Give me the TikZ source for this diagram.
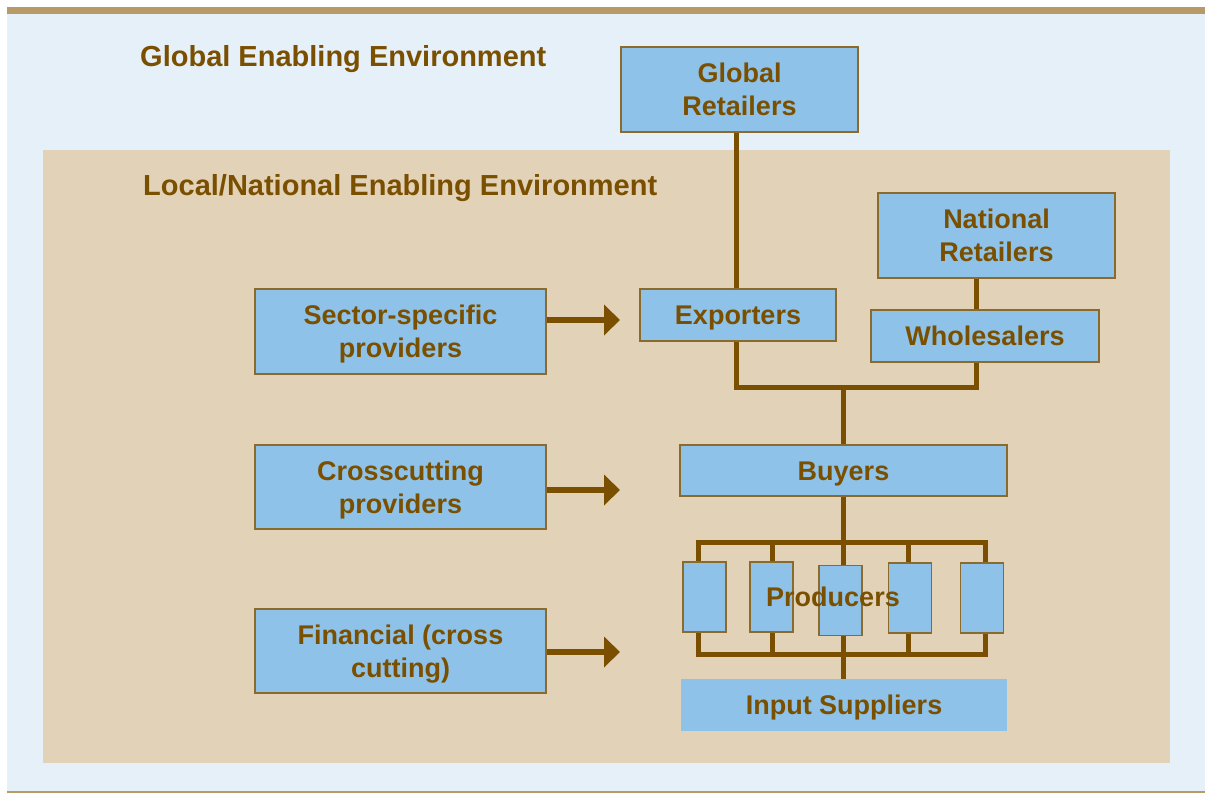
\documentclass[tikz,border=0pt]{standalone}
\usepackage{fontspec}
\setmainfont{Liberation Sans}
\usetikzlibrary{arrows.meta}
\definecolor{bluebg}{HTML}{E5F0F9}
\definecolor{tanbg}{HTML}{E2D2B8}
\definecolor{topbar}{HTML}{B89A68}
\definecolor{nodefill}{HTML}{8EC2E9}
\definecolor{brn}{HTML}{7A5000}
\definecolor{bordr}{HTML}{8B6A2E}
\newcommand\lb[1]{\raisebox{0pt}[\dimexpr\height+6pt\relax][\depth]{\begin{tabular}{@{}c@{}}#1\end{tabular}}}
\tikzset{
  box/.style={draw=bordr, line width=1.2pt, fill=nodefill, inner sep=0pt,
    text=brn, font=\bfseries\fontsize{27}{33}\selectfont},
  plainbox/.style={fill=nodefill, inner sep=0pt,
    text=brn, font=\bfseries\fontsize{27}{33}\selectfont},
  prod/.style={draw=bordr, line width=1.2pt, fill=nodefill, inner sep=0pt,
    minimum width=43, minimum height=70},
  title/.style={anchor=west, text=brn, inner sep=0pt, font=\bfseries\fontsize{29}{33}\selectfont},
  conn/.style={draw=brn, line width=5pt, line join=miter},
  arr/.style={draw=brn, line width=5.5pt, -{Triangle[length=16pt,width=30pt]}}
}
\begin{document}
\begin{tikzpicture}[x=1pt,y=-1pt]
\useasboundingbox (0,0) rectangle (1205,793);
% backgrounds
\fill[white] (0,0) rectangle (1205,793);
\fill[bluebg] (7,14) rectangle (1205,791);
\fill[topbar] (7,7) rectangle (1205,14);
\fill[topbar] (7,791) rectangle (1205,793);
\fill[tanbg] (43,150) rectangle (1170,763);
% titles
\node[title] (tg) at (140,59) {Global Enabling Environment};
\node[title] (tl) at (143,188) {Local/National Enabling Environment};
% coordinates
\coordinate (jx) at (843,387);
\coordinate (wx) at (976,0);
\coordinate (ex) at (736,0);
\coordinate (bt) at (843,542);
\coordinate (bb) at (843,654);
\coordinate (q1) at (698,542); \coordinate (q2) at (772,542);
\coordinate (q4) at (908,542); \coordinate (q5) at (985,542);
\coordinate (r1) at (698,654); \coordinate (r2) at (772,654);
\coordinate (r4) at (908,654); \coordinate (r5) at (985,654);
\coordinate (a1) at (620,320);
\coordinate (a2) at (620,490);
\coordinate (a3) at (620,652);
% nodes
\node[box, minimum width=237, minimum height=85] (gr) at (739.5,89.5) {\lb{Global\\Retailers}};
\node[box, minimum width=237, minimum height=85] (nr) at (996.5,235.5) {\lb{National\\Retailers}};
\node[box, minimum width=196, minimum height=52] (exp) at (738,315) {\lb{Exporters}};
\node[box, minimum width=228, minimum height=52] (whl) at (985,336) {\lb{Wholesalers}};
\node[box, minimum width=327, minimum height=51] (buy) at (843.5,470.5) {\lb{Buyers}};
\node[plainbox, minimum width=326, minimum height=52] (is) at (844,705) {\lb{Input Suppliers}};
\node[box, minimum width=291, minimum height=85] (ssp) at (400.5,331.5) {\lb{Sector-specific\\providers}};
\node[box, minimum width=291, minimum height=84] (ccp) at (400.5,487) {\lb{Crosscutting\\providers}};
\node[box, minimum width=291, minimum height=84] (fin) at (400.5,651) {\lb{Financial (cross\\cutting)}};
% connectors
\draw[conn] (exp.north -| ex) -- (gr.south -| ex);
\draw[conn] (nr.south -| wx) -- (whl.north -| wx);
\draw[conn] (exp.south -| ex) |- (jx) -| (whl.south -| wx);
\draw[conn] (jx) -- (jx |- buy.north);
\draw[conn] (bt |- buy.south) -- (bt);
\draw[conn] (q1) -- (q5) -- (r5) -- (r1) -- cycle;
\draw[conn] (q2) -- (r2);
\draw[conn] (bt) -- (bb);
\draw[conn] (q4) -- (r4);
\draw[conn] (bb) -- (bb |- is.north);
% producers
\node[prod] (p1) at (704.5,597) {};
\node[prod] (p2) at (771.5,597) {};
\node[prod] (p3) at (840.5,600.5) {};
\node[prod] (p4) at (910,598) {};
\node[prod] (p5) at (982,598) {};
\node[text=brn, inner sep=0pt, font=\bfseries\fontsize{27}{33}\selectfont] (pl) at (833,597) {Producers};
% arrows
\draw[arr] (ssp.east |- a1) -- (a1);
\draw[arr] (ccp.east |- a2) -- (a2);
\draw[arr] (fin.east |- a3) -- (a3);
\end{tikzpicture}
\end{document}
